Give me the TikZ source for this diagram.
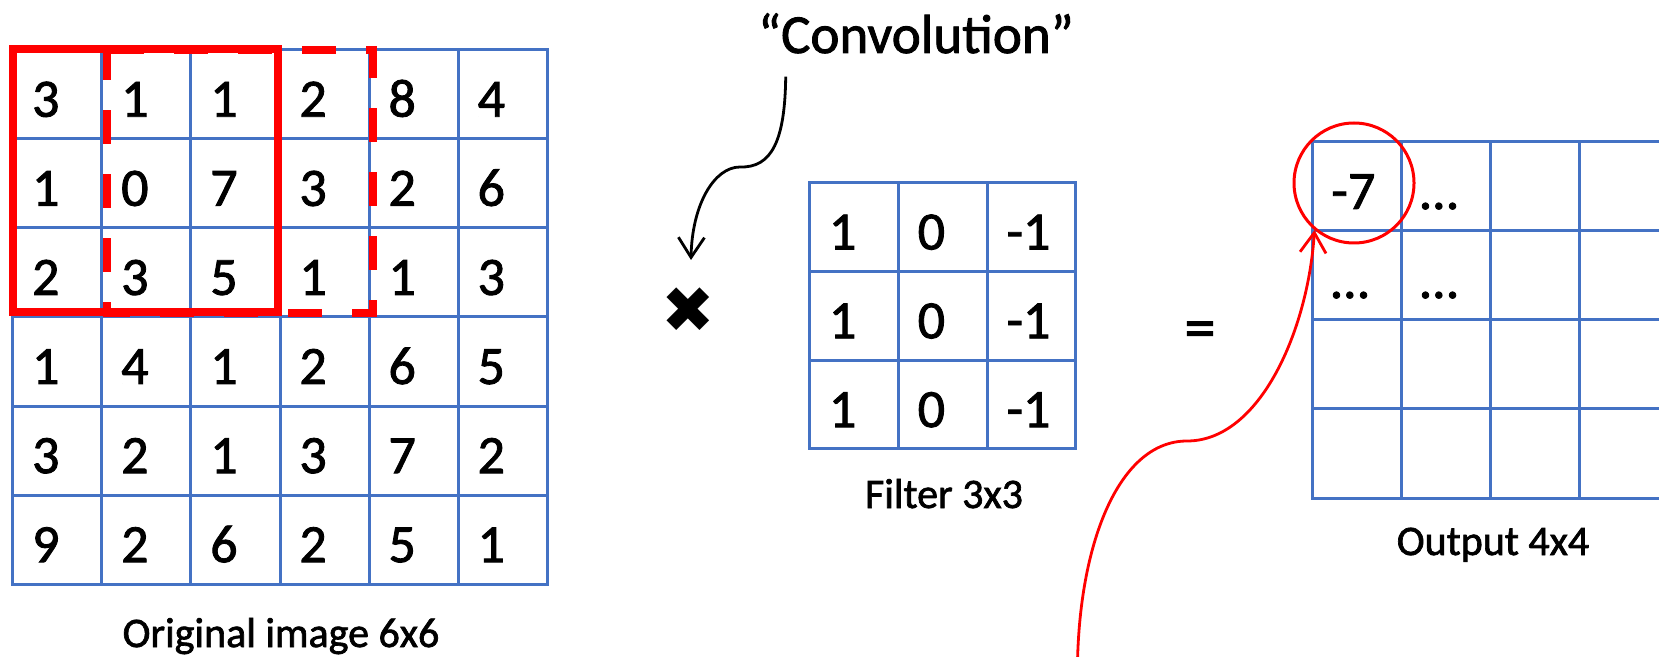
\documentclass[tikz,border=0pt]{standalone}
\usepackage{fontspec}
\setmainfont{Carlito}[FakeBold=1.6]
\newfontfamily\symfont{DejaVu Sans}
\usetikzlibrary{arrows.meta}
\definecolor{gridblue}{HTML}{4472C4}
\definecolor{markred}{HTML}{FF0000}
\begin{document}
\begin{tikzpicture}[x=0.5pt,y=-0.5pt,
  gridline/.style={draw=gridblue,line width=1.5pt,line cap=rect},
  cellnum/.style={anchor=base west,inner sep=0pt,font=\fontsize{27}{32}\selectfont},
  caption/.style={anchor=base,inner sep=0pt,font=\fontsize{21}{25}\selectfont},
  window/.style={draw=markred,line width=4pt,line join=miter},
  nextwindow/.style={window,dash pattern=on 17pt off 15pt,dash phase=2pt},
  pointer/.style={line width=1.4pt,-{Straight Barb[length=10pt,width=13pt]}},
]
\useasboundingbox (0,0) rectangle (1659,657);
\fill[white] (0,0) rectangle (1659,657);
\clip (0,0) rectangle (1659,657);

% 6x6 input image
\foreach \k in {0,...,6}{
  \draw[gridline] ({12.7+89.1*\k},49.7) -- ({12.7+89.1*\k},584.3);
  \draw[gridline] (12.7,{49.7+89.1*\k}) -- (547.3,{49.7+89.1*\k});
}
\foreach \vals [count=\r from 0] in {{3,1,1,2,8,4},{1,0,7,3,2,6},{2,3,5,1,1,3},{1,4,1,2,6,5},{3,2,1,3,7,2},{9,2,6,2,5,1}}{
  \foreach \v [count=\c from 0] in \vals
    \node[cellnum] (img-\r-\c) at ({31.7+89.1*\c},{116.7+89.1*\r}) {\v};
}

% current and next 3x3 windows
\coordinate (wA) at (107,50.5);
\coordinate (wB) at (372.5,50.5);
\coordinate (wC) at (372.5,313.5);
\coordinate (wD) at (107,313.5);
\draw[nextwindow] (wA) -- (wD) -- (wC) -- (wB) -- cycle;
\draw[window] (12.5,49.5) rectangle (277.5,312.5);

% 3x3 filter
\foreach \k in {0,...,3}{
  \draw[gridline] ({809.5+88.8*\k},182.5) -- ({809.5+88.8*\k},448.9);
  \draw[gridline] (809.5,{182.5+88.8*\k}) -- (1075.9,{182.5+88.8*\k});
}
\foreach \r in {0,1,2}{
  \foreach \v [count=\c from 0] in {1,0,-1}
    \node[cellnum] (flt-\r-\c) at ({828.5+88.8*\c},{249.5+88.8*\r}) {\v};
}

% 4x4 output
\foreach \k in {0,...,4}{
  \draw[gridline] ({1312+89*\k},142) -- ({1312+89*\k},498);
  \draw[gridline] (1312,{142+89*\k}) -- (1700,{142+89*\k});
}
\node[cellnum] (out-0-0) at (1331,209) {-7};
\node[cellnum] (out-0-1) at (1420,209) {…};
\node[cellnum] (out-1-0) at (1331,298) {…};
\node[cellnum] (out-1-1) at (1420,298) {…};

% operators and captions
\node[inner sep=0pt,font=\symfont\fontsize{32}{38}\selectfont] (times) at (688,310) {✖};
\node[inner sep=0pt,font=\fontsize{31}{37}\selectfont] (eq) at (1200,335) {=};
\node[anchor=base,inner sep=0pt,font=\fontsize{27.5}{33}\selectfont] (conv) at (916,53) {“Convolution”};
\node[caption] (cap-img) at (281,647) {Original image 6x6};
\node[caption] (cap-flt) at (944,508) {Filter 3x3};
\node[caption] (cap-out) at (1493,555) {Output 4x4};

% highlighted output value
\node[draw=markred,line width=1.5pt,circle,minimum size=60pt,inner sep=0pt] (focus) at (1354,183) {};

% pointer from the label to the operator
\coordinate (conv-tail) at (785.7,76.7);
\coordinate (conv-bend) at (740,167);
\coordinate (times-top) at (691,260);
\draw[pointer] (conv-tail) .. controls (785,140) and (772,168) .. (conv-bend)
  .. controls (714,167) and (692,205) .. (times-top);

% pointer to the highlighted value
\coordinate (src) at (1077.5,662);
\coordinate (red-bend) at (1187,441);
\draw[pointer,draw=markred] (src) .. controls (1080,540) and (1120,441) .. (red-bend)
  .. controls (1260,441) and (1308,330) .. (focus.230);
\end{tikzpicture}
\end{document}
